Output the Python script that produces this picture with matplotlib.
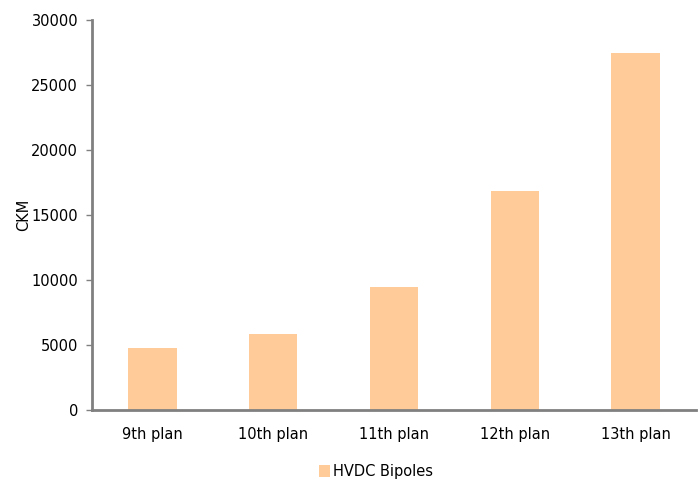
import matplotlib.pyplot as plt

plans = ['9th plan', '10th plan', '11th plan', '12th plan', '13th plan']
hvdc_bipoles = [4738, 5872, 9432, 16872, 27472]

plt.rcParams['font.family'] = ['DejaVu Sans']

fig = plt.figure(figsize=(6.98, 4.8), dpi=100)
ax = fig.add_axes([0.1318, 0.1458, 0.8652, 0.8125])

x = range(len(plans))
ax.bar(x, hvdc_bipoles, width=0.4, color='#FFCC99', label='HVDC Bipoles')

ax.set_xlim(-0.5, 4.5)
ax.set_ylim(0, 30000)
ax.set_yticks(range(0, 30001, 5000))
ax.set_xticks(list(x))
ax.set_xticklabels(plans)
ax.set_ylabel('CKM', fontsize=10.5, labelpad=0)

for side in ['top', 'right']:
    ax.spines[side].set_visible(False)
for side in ['left', 'bottom']:
    ax.spines[side].set_color('#808080')
    ax.spines[side].set_linewidth(2)

ax.tick_params(axis='y', length=4, width=1, color='#808080', labelsize=10.5, pad=6)
ax.tick_params(axis='x', length=0, labelsize=10.5, pad=12)

ax.legend(loc='center', bbox_to_anchor=(0.47, -0.158), bbox_transform=ax.transAxes,
          frameon=False, fontsize=10.5, handlelength=0.8, handleheight=0.8,
          handletextpad=0.2)

fig.savefig('out.png', dpi=100)
